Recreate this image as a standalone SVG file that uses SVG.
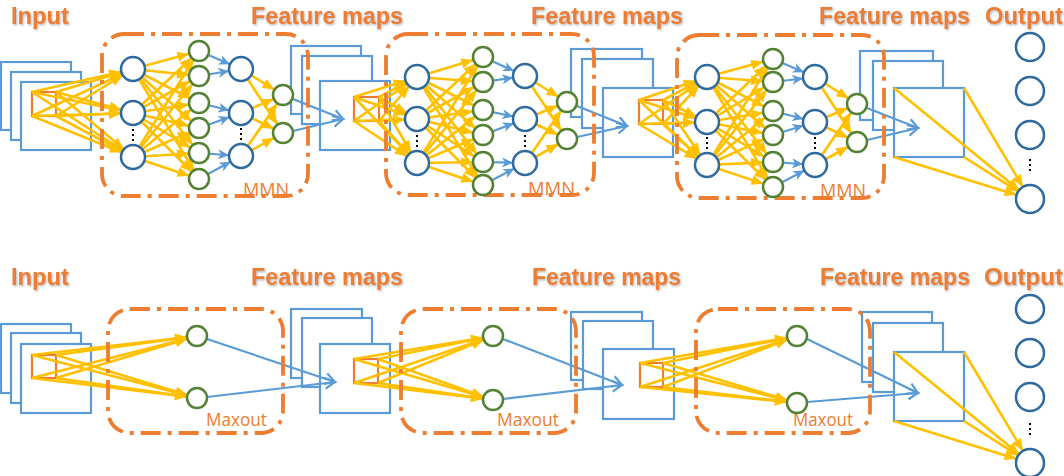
<svg xmlns="http://www.w3.org/2000/svg" width="1064" height="476" viewBox="0 0 1064 476">
<style>
.fm{fill:#fff;stroke:#5B9BD5;stroke-width:2.2}
.or{fill:none;stroke:#ED7D31;stroke-width:2.2}
.y{stroke:#FFC000;stroke-width:2.6;fill:none}
.y12{marker-end:url(#y12)}
.y10{marker-end:url(#y10)}
.y14{marker-end:url(#y14)}
.b{stroke:#5B9BD5;stroke-width:2.2;fill:none}
.b12{marker-end:url(#b12)}
.bo{marker-end:url(#bo)}
.box{fill:none;stroke:#ED7D31;stroke-width:3.8;stroke-dasharray:20 7 4 7}
.nb{fill:#fff;stroke:#2E6A9E;stroke-width:2.5}
.ng{fill:#fff;stroke:#548235;stroke-width:2.5}
.dots{stroke:#000;stroke-width:2;stroke-dasharray:2 3}
.t{font-family:"Liberation Sans",Arial,sans-serif;font-weight:700;font-size:24px;fill:#ED7D31;filter:url(#sh)}
.l{font-family:"Open Sans","Liberation Sans",sans-serif;font-weight:400;font-size:19px;fill:#ED7D31}
</style>
<defs>
<filter id="sh" x="-10%" y="-20%" width="130%" height="150%"><feDropShadow dx="1" dy="1.3" stdDeviation="0.8" flood-color="#808080" flood-opacity="0.6"/></filter>
<marker id="y12" markerUnits="userSpaceOnUse" markerWidth="12" markerHeight="10" refX="24" refY="5" orient="auto" overflow="visible"><path d="M0,0 L12,5 L0,10 z" fill="#FFC000"/></marker>
<marker id="y10" markerUnits="userSpaceOnUse" markerWidth="12" markerHeight="10" refX="22" refY="5" orient="auto" overflow="visible"><path d="M0,0 L12,5 L0,10 z" fill="#FFC000"/></marker>
<marker id="y14" markerUnits="userSpaceOnUse" markerWidth="12" markerHeight="10" refX="26" refY="5" orient="auto" overflow="visible"><path d="M0,0 L12,5 L0,10 z" fill="#FFC000"/></marker>
<marker id="b12" markerUnits="userSpaceOnUse" markerWidth="11" markerHeight="10" refX="23" refY="5" orient="auto" overflow="visible"><path d="M0,0 L11,5 L0,10 L3,5 z" fill="#5B9BD5"/></marker>
<marker id="bo" markerUnits="userSpaceOnUse" markerWidth="11" markerHeight="12" refX="11" refY="6" orient="auto" overflow="visible"><path d="M1,0.5 L11,6 L1,11.5" fill="none" stroke="#5B9BD5" stroke-width="2.2"/></marker>
</defs>

<!-- feature map stacks -->
<g id="input-top"><rect class="fm" x="1" y="62" width="70" height="68"/><rect class="fm" x="11" y="72" width="70" height="68"/><rect class="fm" x="21" y="82" width="70" height="68"/><rect class="or" x="32" y="92" width="24" height="24"/></g>
<g id="fm1-top"><rect class="fm" x="291" y="46" width="70" height="68"/><rect class="fm" x="302" y="56" width="70" height="68"/><rect class="fm" x="320" y="81" width="70" height="69"/><rect class="or" x="354" y="97" width="25" height="24"/></g>
<g id="fm2-top"><rect class="fm" x="571" y="49" width="71" height="68"/><rect class="fm" x="582" y="59" width="71" height="69"/><rect class="fm" x="603" y="88" width="70" height="69"/><rect class="or" x="639" y="100" width="24" height="24"/></g>
<g id="fm3-top"><rect class="fm" x="860" y="51" width="73" height="69"/><rect class="fm" x="873" y="61" width="70" height="69"/><rect class="fm" x="894" y="88" width="70" height="69"/></g>

<g id="input-bot"><rect class="fm" x="1" y="324" width="70" height="69"/><rect class="fm" x="11" y="333" width="70" height="70"/><rect class="fm" x="21" y="344" width="70" height="69"/><rect class="or" x="32" y="355" width="24" height="23"/></g>
<g id="fm1-bot"><rect class="fm" x="291" y="309" width="71" height="69"/><rect class="fm" x="302" y="318" width="70" height="69"/><rect class="fm" x="320" y="344" width="70" height="69"/><rect class="or" x="354" y="359" width="24" height="24"/></g>
<g id="fm2-bot"><rect class="fm" x="571" y="312" width="71" height="68"/><rect class="fm" x="583" y="321" width="70" height="68"/><rect class="fm" x="603" y="349" width="71" height="70"/><rect class="or" x="640" y="363" width="23" height="24"/></g>
<g id="fm3-bot"><rect class="fm" x="862" y="312" width="70" height="70"/><rect class="fm" x="873" y="323" width="70" height="69"/><rect class="fm" x="894" y="352" width="70" height="69"/></g>

<g id="connectors">
<!-- top block 1: input -> col1 -->
<g class="y y12">
<line x1="32" y1="92" x2="133" y2="69"/><line x1="56" y1="92" x2="133" y2="69"/><line x1="32" y1="116" x2="133" y2="69"/><line x1="56" y1="116" x2="133" y2="69"/>
<line x1="32" y1="92" x2="133" y2="113"/><line x1="56" y1="92" x2="133" y2="113"/><line x1="32" y1="116" x2="133" y2="113"/><line x1="56" y1="116" x2="133" y2="113"/>
<line x1="32" y1="92" x2="133" y2="157"/><line x1="56" y1="92" x2="133" y2="157"/><line x1="32" y1="116" x2="133" y2="157"/><line x1="56" y1="116" x2="133" y2="157"/>
</g>
<g class="y y10">
<line x1="133" y1="69" x2="199" y2="51"/><line x1="133" y1="69" x2="199" y2="76"/><line x1="133" y1="69" x2="199" y2="103"/><line x1="133" y1="69" x2="199" y2="128"/><line x1="133" y1="69" x2="199" y2="153"/><line x1="133" y1="69" x2="199" y2="179"/>
<line x1="133" y1="113" x2="199" y2="51"/><line x1="133" y1="113" x2="199" y2="76"/><line x1="133" y1="113" x2="199" y2="103"/><line x1="133" y1="113" x2="199" y2="128"/><line x1="133" y1="113" x2="199" y2="153"/><line x1="133" y1="113" x2="199" y2="179"/>
<line x1="133" y1="157" x2="199" y2="51"/><line x1="133" y1="157" x2="199" y2="76"/><line x1="133" y1="157" x2="199" y2="103"/><line x1="133" y1="157" x2="199" y2="128"/><line x1="133" y1="157" x2="199" y2="153"/><line x1="133" y1="157" x2="199" y2="179"/>
<line x1="241" y1="69" x2="283" y2="95"/><line x1="241" y1="69" x2="283" y2="133"/>
<line x1="241" y1="113" x2="283" y2="95"/><line x1="241" y1="113" x2="283" y2="133"/>
<line x1="241" y1="156" x2="283" y2="95"/><line x1="241" y1="156" x2="283" y2="133"/>
</g>
<g class="b b12">
<line x1="199" y1="51" x2="241" y2="69"/><line x1="199" y1="76" x2="241" y2="69"/>
<line x1="199" y1="103" x2="241" y2="113"/><line x1="199" y1="128" x2="241" y2="113"/>
<line x1="199" y1="153" x2="241" y2="156"/><line x1="199" y1="179" x2="241" y2="156"/>
</g>
<g class="b bo"><line x1="293" y1="99" x2="343" y2="119"/><line x1="293" y1="131" x2="343" y2="119"/></g>

<!-- top block 2 -->
<g class="y y12">
<line x1="354" y1="97" x2="417" y2="77"/><line x1="379" y1="97" x2="417" y2="77"/><line x1="354" y1="121" x2="417" y2="77"/><line x1="379" y1="121" x2="417" y2="77"/>
<line x1="354" y1="97" x2="417" y2="119"/><line x1="379" y1="97" x2="417" y2="119"/><line x1="354" y1="121" x2="417" y2="119"/><line x1="379" y1="121" x2="417" y2="119"/>
<line x1="354" y1="97" x2="417" y2="163"/><line x1="379" y1="97" x2="417" y2="163"/><line x1="354" y1="121" x2="417" y2="163"/><line x1="379" y1="121" x2="417" y2="163"/>
</g>
<g class="y y10">
<line x1="417" y1="77" x2="483" y2="57"/><line x1="417" y1="77" x2="483" y2="82"/><line x1="417" y1="77" x2="483" y2="110"/><line x1="417" y1="77" x2="483" y2="135"/><line x1="417" y1="77" x2="483" y2="162"/><line x1="417" y1="77" x2="483" y2="185"/>
<line x1="417" y1="119" x2="483" y2="57"/><line x1="417" y1="119" x2="483" y2="82"/><line x1="417" y1="119" x2="483" y2="110"/><line x1="417" y1="119" x2="483" y2="135"/><line x1="417" y1="119" x2="483" y2="162"/><line x1="417" y1="119" x2="483" y2="185"/>
<line x1="417" y1="163" x2="483" y2="57"/><line x1="417" y1="163" x2="483" y2="82"/><line x1="417" y1="163" x2="483" y2="110"/><line x1="417" y1="163" x2="483" y2="135"/><line x1="417" y1="163" x2="483" y2="162"/><line x1="417" y1="163" x2="483" y2="185"/>
<line x1="525" y1="76" x2="567" y2="102"/><line x1="525" y1="76" x2="567" y2="139"/>
<line x1="525" y1="119" x2="567" y2="102"/><line x1="525" y1="119" x2="567" y2="139"/>
<line x1="525" y1="163" x2="567" y2="102"/><line x1="525" y1="163" x2="567" y2="139"/>
</g>
<g class="b b12">
<line x1="483" y1="57" x2="525" y2="76"/><line x1="483" y1="82" x2="525" y2="76"/>
<line x1="483" y1="110" x2="525" y2="119"/><line x1="483" y1="135" x2="525" y2="119"/>
<line x1="483" y1="162" x2="525" y2="163"/><line x1="483" y1="185" x2="525" y2="163"/>
</g>
<g class="b bo"><line x1="577" y1="106" x2="627" y2="126"/><line x1="577" y1="137" x2="627" y2="126"/></g>

<!-- top block 3 -->
<g class="y y12">
<line x1="639" y1="100" x2="707" y2="77"/><line x1="663" y1="100" x2="707" y2="77"/><line x1="639" y1="124" x2="707" y2="77"/><line x1="663" y1="124" x2="707" y2="77"/>
<line x1="639" y1="100" x2="707" y2="122"/><line x1="663" y1="100" x2="707" y2="122"/><line x1="639" y1="124" x2="707" y2="122"/><line x1="663" y1="124" x2="707" y2="122"/>
<line x1="639" y1="100" x2="707" y2="165"/><line x1="663" y1="100" x2="707" y2="165"/><line x1="639" y1="124" x2="707" y2="165"/><line x1="663" y1="124" x2="707" y2="165"/>
</g>
<g class="y y10">
<line x1="707" y1="77" x2="773" y2="59"/><line x1="707" y1="77" x2="773" y2="82"/><line x1="707" y1="77" x2="773" y2="111"/><line x1="707" y1="77" x2="773" y2="135"/><line x1="707" y1="77" x2="773" y2="162"/><line x1="707" y1="77" x2="773" y2="187"/>
<line x1="707" y1="122" x2="773" y2="59"/><line x1="707" y1="122" x2="773" y2="82"/><line x1="707" y1="122" x2="773" y2="111"/><line x1="707" y1="122" x2="773" y2="135"/><line x1="707" y1="122" x2="773" y2="162"/><line x1="707" y1="122" x2="773" y2="187"/>
<line x1="707" y1="165" x2="773" y2="59"/><line x1="707" y1="165" x2="773" y2="82"/><line x1="707" y1="165" x2="773" y2="111"/><line x1="707" y1="165" x2="773" y2="135"/><line x1="707" y1="165" x2="773" y2="162"/><line x1="707" y1="165" x2="773" y2="187"/>
<line x1="815" y1="77" x2="857" y2="104"/><line x1="815" y1="77" x2="857" y2="142"/>
<line x1="815" y1="122" x2="857" y2="104"/><line x1="815" y1="122" x2="857" y2="142"/>
<line x1="815" y1="165" x2="857" y2="104"/><line x1="815" y1="165" x2="857" y2="142"/>
</g>
<g class="b b12">
<line x1="773" y1="59" x2="815" y2="77"/><line x1="773" y1="82" x2="815" y2="77"/>
<line x1="773" y1="111" x2="815" y2="122"/><line x1="773" y1="135" x2="815" y2="122"/>
<line x1="773" y1="162" x2="815" y2="165"/><line x1="773" y1="187" x2="815" y2="165"/>
</g>
<g class="b bo"><line x1="867" y1="108" x2="918" y2="128"/><line x1="867" y1="140" x2="918" y2="128"/></g>
<g class="y y14">
<line x1="894" y1="88" x2="1030" y2="199"/><line x1="964" y1="88" x2="1030" y2="199"/><line x1="894" y1="157" x2="1030" y2="199"/><line x1="964" y1="157" x2="1030" y2="199"/>
</g>

<!-- bottom row -->
<g class="y y10">
<line x1="32" y1="355" x2="197" y2="336"/><line x1="56" y1="355" x2="197" y2="336"/><line x1="32" y1="378" x2="197" y2="336"/><line x1="56" y1="378" x2="197" y2="336"/>
<line x1="32" y1="355" x2="197" y2="398"/><line x1="56" y1="355" x2="197" y2="398"/><line x1="32" y1="378" x2="197" y2="398"/><line x1="56" y1="378" x2="197" y2="398"/>
<line x1="354" y1="359" x2="493" y2="336"/><line x1="378" y1="359" x2="493" y2="336"/><line x1="354" y1="383" x2="493" y2="336"/><line x1="378" y1="383" x2="493" y2="336"/>
<line x1="354" y1="359" x2="493" y2="400"/><line x1="378" y1="359" x2="493" y2="400"/><line x1="354" y1="383" x2="493" y2="400"/><line x1="378" y1="383" x2="493" y2="400"/>
<line x1="640" y1="363" x2="797" y2="336"/><line x1="663" y1="363" x2="797" y2="336"/><line x1="640" y1="387" x2="797" y2="336"/><line x1="663" y1="387" x2="797" y2="336"/>
<line x1="640" y1="363" x2="797" y2="403"/><line x1="663" y1="363" x2="797" y2="403"/><line x1="640" y1="387" x2="797" y2="403"/><line x1="663" y1="387" x2="797" y2="403"/>
</g>
<g class="b bo">
<line x1="207" y1="339" x2="335" y2="382"/><line x1="207" y1="397" x2="335" y2="382"/>
<line x1="503" y1="339" x2="622" y2="385"/><line x1="503" y1="399" x2="622" y2="385"/>
<line x1="807" y1="339" x2="918" y2="393"/><line x1="807" y1="402" x2="918" y2="393"/>
</g>
<g class="y y14">
<line x1="894" y1="352" x2="1030" y2="463"/><line x1="964" y1="352" x2="1030" y2="463"/><line x1="894" y1="421" x2="1030" y2="463"/><line x1="964" y1="421" x2="1030" y2="463"/>
</g>
</g>

<!-- dash-dot boxes -->
<g id="mmn1"><rect class="box" x="102" y="34" width="206" height="162" rx="22"/><text class="l" x="243" y="196" textLength="46" lengthAdjust="spacingAndGlyphs">MMN</text></g>
<g id="mmn2"><rect class="box" x="386" y="34" width="208" height="161" rx="22"/><text class="l" x="528" y="195" textLength="47" lengthAdjust="spacingAndGlyphs">MMN</text></g>
<g id="mmn3"><rect class="box" x="677" y="35" width="207" height="163" rx="22"/><text class="l" x="820" y="197" textLength="46" lengthAdjust="spacingAndGlyphs">MMN</text></g>
<g id="maxout1"><rect class="box" x="108" y="309" width="175" height="124" rx="22"/><text class="l" x="206" y="426" textLength="61" lengthAdjust="spacingAndGlyphs">Maxout</text></g>
<g id="maxout2"><rect class="box" x="401" y="309" width="175" height="124" rx="22"/><text class="l" x="497" y="426" textLength="62" lengthAdjust="spacingAndGlyphs">Maxout</text></g>
<g id="maxout3"><rect class="box" x="696" y="309" width="174" height="124" rx="22"/><text class="l" x="793" y="426" textLength="60" lengthAdjust="spacingAndGlyphs">Maxout</text></g>

<!-- nodes top block 1 -->
<g id="t1a1"><circle class="nb" cx="133" cy="69" r="12"/></g>
<g id="t1a2"><circle class="nb" cx="133" cy="113" r="12"/></g>
<g id="t1a3"><circle class="nb" cx="133" cy="157" r="12"/></g>
<line class="dots" x1="133" y1="129" x2="133" y2="143"/>
<g id="t1b1"><circle class="ng" cx="199" cy="51" r="10"/></g>
<g id="t1b2"><circle class="ng" cx="199" cy="76" r="10"/></g>
<g id="t1b3"><circle class="ng" cx="199" cy="103" r="10"/></g>
<g id="t1b4"><circle class="ng" cx="199" cy="128" r="10"/></g>
<g id="t1b5"><circle class="ng" cx="199" cy="153" r="10"/></g>
<g id="t1b6"><circle class="ng" cx="199" cy="179" r="10"/></g>
<g id="t1c1"><circle class="nb" cx="241" cy="69" r="12"/></g>
<g id="t1c2"><circle class="nb" cx="241" cy="113" r="12"/></g>
<g id="t1c3"><circle class="nb" cx="241" cy="156" r="12"/></g>
<line class="dots" x1="241" y1="128" x2="241" y2="142"/>
<g id="t1d1"><circle class="ng" cx="283" cy="95" r="10"/></g>
<g id="t1d2"><circle class="ng" cx="283" cy="133" r="10"/></g>

<!-- nodes top block 2 -->
<g id="t2a1"><circle class="nb" cx="417" cy="77" r="12"/></g>
<g id="t2a2"><circle class="nb" cx="417" cy="119" r="12"/></g>
<g id="t2a3"><circle class="nb" cx="417" cy="163" r="12"/></g>
<line class="dots" x1="417" y1="135" x2="417" y2="149"/>
<g id="t2b1"><circle class="ng" cx="483" cy="57" r="10"/></g>
<g id="t2b2"><circle class="ng" cx="483" cy="82" r="10"/></g>
<g id="t2b3"><circle class="ng" cx="483" cy="110" r="10"/></g>
<g id="t2b4"><circle class="ng" cx="483" cy="135" r="10"/></g>
<g id="t2b5"><circle class="ng" cx="483" cy="162" r="10"/></g>
<g id="t2b6"><circle class="ng" cx="483" cy="185" r="10"/></g>
<g id="t2c1"><circle class="nb" cx="525" cy="76" r="12"/></g>
<g id="t2c2"><circle class="nb" cx="525" cy="119" r="12"/></g>
<g id="t2c3"><circle class="nb" cx="525" cy="163" r="12"/></g>
<line class="dots" x1="525" y1="135" x2="525" y2="149"/>
<g id="t2d1"><circle class="ng" cx="567" cy="102" r="10"/></g>
<g id="t2d2"><circle class="ng" cx="567" cy="139" r="10"/></g>

<!-- nodes top block 3 -->
<g id="t3a1"><circle class="nb" cx="707" cy="77" r="12"/></g>
<g id="t3a2"><circle class="nb" cx="707" cy="122" r="12"/></g>
<g id="t3a3"><circle class="nb" cx="707" cy="165" r="12"/></g>
<line class="dots" x1="707" y1="137" x2="707" y2="151"/>
<g id="t3b1"><circle class="ng" cx="773" cy="59" r="10"/></g>
<g id="t3b2"><circle class="ng" cx="773" cy="82" r="10"/></g>
<g id="t3b3"><circle class="ng" cx="773" cy="111" r="10"/></g>
<g id="t3b4"><circle class="ng" cx="773" cy="135" r="10"/></g>
<g id="t3b5"><circle class="ng" cx="773" cy="162" r="10"/></g>
<g id="t3b6"><circle class="ng" cx="773" cy="187" r="10"/></g>
<g id="t3c1"><circle class="nb" cx="815" cy="77" r="12"/></g>
<g id="t3c2"><circle class="nb" cx="815" cy="122" r="12"/></g>
<g id="t3c3"><circle class="nb" cx="815" cy="165" r="12"/></g>
<line class="dots" x1="815" y1="137" x2="815" y2="151"/>
<g id="t3d1"><circle class="ng" cx="857" cy="104" r="10"/></g>
<g id="t3d2"><circle class="ng" cx="857" cy="142" r="10"/></g>

<!-- output top -->
<g id="to1"><circle class="nb" cx="1030" cy="47" r="14"/></g>
<g id="to2"><circle class="nb" cx="1030" cy="91" r="14"/></g>
<g id="to3"><circle class="nb" cx="1030" cy="135" r="14"/></g>
<line class="dots" x1="1030" y1="159" x2="1030" y2="173"/>
<g id="to4"><circle class="nb" cx="1030" cy="199" r="14"/></g>

<!-- bottom nodes -->
<g id="m1a"><circle class="ng" cx="197" cy="336" r="10"/></g>
<g id="m1b"><circle class="ng" cx="197" cy="398" r="10"/></g>
<g id="m2a"><circle class="ng" cx="493" cy="336" r="10"/></g>
<g id="m2b"><circle class="ng" cx="493" cy="400" r="10"/></g>
<g id="m3a"><circle class="ng" cx="797" cy="336" r="10"/></g>
<g id="m3b"><circle class="ng" cx="797" cy="403" r="10"/></g>
<g id="bo1"><circle class="nb" cx="1030" cy="309" r="14"/></g>
<g id="bo2"><circle class="nb" cx="1030" cy="353" r="14"/></g>
<g id="bo3"><circle class="nb" cx="1030" cy="397" r="14"/></g>
<line class="dots" x1="1030" y1="423" x2="1030" y2="437"/>
<g id="bo4"><circle class="nb" cx="1030" cy="463" r="14"/></g>

<!-- titles -->
<g id="titles">
<text class="t" x="11" y="24" textLength="58" lengthAdjust="spacingAndGlyphs">Input</text>
<text class="t" x="251" y="24" textLength="152" lengthAdjust="spacingAndGlyphs">Feature maps</text>
<text class="t" x="531" y="24" textLength="152" lengthAdjust="spacingAndGlyphs">Feature maps</text>
<text class="t" x="819" y="24" textLength="151" lengthAdjust="spacingAndGlyphs">Feature maps</text>
<text class="t" x="985" y="24" textLength="78" lengthAdjust="spacingAndGlyphs">Output</text>
<text class="t" x="11" y="285" textLength="58" lengthAdjust="spacingAndGlyphs">Input</text>
<text class="t" x="251" y="285" textLength="152" lengthAdjust="spacingAndGlyphs">Feature maps</text>
<text class="t" x="532" y="285" textLength="149" lengthAdjust="spacingAndGlyphs">Feature maps</text>
<text class="t" x="820" y="285" textLength="150" lengthAdjust="spacingAndGlyphs">Feature maps</text>
<text class="t" x="984" y="285" textLength="79" lengthAdjust="spacingAndGlyphs">Output</text>
</g>
</svg>
